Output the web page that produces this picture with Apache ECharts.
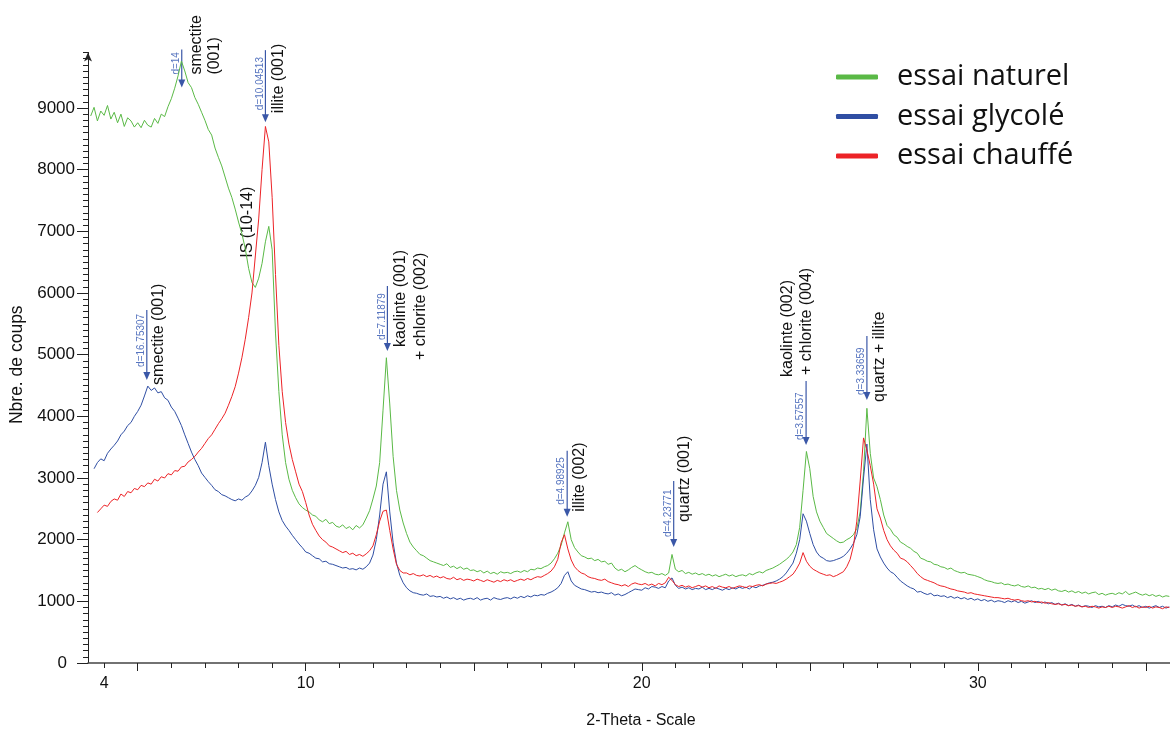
<!DOCTYPE html>
<html><head><meta charset="utf-8">
<script src="https://cdn.jsdelivr.net/npm/echarts@6/dist/echarts.min.js"></script>
<style>html,body{margin:0;padding:0;background:#fff;overflow:hidden}#c{width:1170px;height:729px}</style>
</head><body><div id="c"></div><script>
// ---- data ----
const twoTheta = [
3.6,3.7,3.8,3.9,
4,4.1,4.2,4.3,4.4,4.5,4.6,4.7,4.8,4.9,
5,5.1,5.2,5.3,5.4,5.5,5.6,5.7,5.8,5.9,
6,6.1,6.2,6.3,6.4,6.5,6.6,6.7,6.8,6.9,
7,7.1,7.2,7.3,7.4,7.5,7.6,7.7,7.8,7.9,
8,8.1,8.2,8.3,8.4,8.5,8.6,8.7,8.8,8.9,
9,9.1,9.2,9.3,9.4,9.5,9.6,9.7,9.8,9.9,
10,10.1,10.2,10.3,10.4,10.5,10.6,10.7,10.8,10.9,
11,11.1,11.2,11.3,11.4,11.5,11.6,11.7,11.8,11.9,
12,12.1,12.2,12.3,12.4,12.5,12.6,12.7,12.8,12.9,
13,13.1,13.2,13.3,13.4,13.5,13.6,13.7,13.8,13.9,
14,14.1,14.2,14.3,14.4,14.5,14.6,14.7,14.8,14.9,
15,15.1,15.2,15.3,15.4,15.5,15.6,15.7,15.8,15.9,
16,16.1,16.2,16.3,16.4,16.5,16.6,16.7,16.8,16.9,
17,17.1,17.2,17.3,17.4,17.5,17.6,17.7,17.8,17.9,
18,18.1,18.2,18.3,18.4,18.5,18.6,18.7,18.8,18.9,
19,19.1,19.2,19.3,19.4,19.5,19.6,19.7,19.8,19.9,
20,20.1,20.2,20.3,20.4,20.5,20.6,20.7,20.8,20.9,
21,21.1,21.2,21.3,21.4,21.5,21.6,21.7,21.8,21.9,
22,22.1,22.2,22.3,22.4,22.5,22.6,22.7,22.8,22.9,
23,23.1,23.2,23.3,23.4,23.5,23.6,23.7,23.8,23.9,
24,24.1,24.2,24.3,24.4,24.5,24.6,24.7,24.8,24.9,
25,25.1,25.2,25.3,25.4,25.5,25.6,25.7,25.8,25.9,
26,26.1,26.2,26.3,26.4,26.5,26.6,26.7,26.8,26.9,
27,27.1,27.2,27.3,27.4,27.5,27.6,27.7,27.8,27.9,
28,28.1,28.2,28.3,28.4,28.5,28.6,28.7,28.8,28.9,
29,29.1,29.2,29.3,29.4,29.5,29.6,29.7,29.8,29.9,
30,30.1,30.2,30.3,30.4,30.5,30.6,30.7,30.8,30.9,
31,31.1,31.2,31.3,31.4,31.5,31.6,31.7,31.8,31.9,
32,32.1,32.2,32.3,32.4,32.5,32.6,32.7,32.8,32.9,
33,33.1,33.2,33.3,33.4,33.5,33.6,33.7,33.8,33.9,
34,34.1,34.2,34.3,34.4,34.5,34.6,34.7,34.8,34.9,
35,35.1,35.2,35.3,35.4,35.5,35.6,35.7
];
const naturel = [
8870,9010,8790,8950,
8880,9040,8820,8930,8760,8900,8700,8840,8790,8690,
8760,8680,8800,8720,8690,8830,8750,8900,8860,9020,
9150,9320,9520,9760,9600,9410,9330,9170,9060,8930,
8800,8650,8560,8350,8200,8060,7880,7700,7550,7360,
7150,6960,6720,6400,6170,6090,6240,6480,6830,7080,
6700,5350,4400,3700,3250,2980,2800,2680,2580,2520,
2480,2450,2400,2380,2320,2290,2330,2260,2280,2220,
2200,2240,2180,2210,2160,2230,2190,2240,2350,2470,
2660,2870,3250,4100,4950,4200,3350,2800,2480,2270,
2100,1960,1880,1820,1760,1740,1700,1660,1640,1620,
1600,1580,1610,1550,1570,1530,1560,1520,1540,1500,
1510,1480,1500,1460,1490,1450,1470,1440,1480,1460,
1470,1450,1480,1490,1470,1500,1480,1520,1510,1540,
1530,1560,1580,1620,1690,1780,1910,2110,2290,2000,
1870,1800,1740,1720,1690,1700,1660,1680,1640,1650,
1600,1620,1540,1500,1520,1480,1510,1550,1580,1540,
1510,1480,1460,1470,1440,1430,1450,1420,1460,1760,
1520,1480,1500,1450,1470,1440,1460,1430,1450,1420,
1440,1410,1430,1400,1420,1440,1410,1430,1400,1420,
1430,1410,1450,1430,1460,1480,1460,1500,1520,1540,
1570,1600,1640,1680,1730,1800,1920,2200,2800,3430,
3150,2700,2450,2300,2200,2100,2060,2020,1980,1950,
1960,2000,2030,2080,2180,2450,3100,4130,3400,3000,
2860,2650,2400,2230,2170,2080,2040,1960,1930,1890,
1860,1810,1780,1700,1680,1650,1640,1600,1590,1560,
1550,1520,1540,1500,1480,1460,1470,1440,1430,1420,
1400,1380,1350,1330,1320,1300,1290,1300,1270,1280,
1260,1250,1270,1240,1230,1250,1220,1230,1200,1210,
1190,1210,1180,1200,1170,1160,1180,1150,1170,1140,
1160,1130,1150,1120,1140,1150,1110,1130,1100,1120,
1130,1110,1140,1120,1160,1110,1130,1150,1120,1100,
1120,1090,1110,1080,1100,1070,1090,1080
];
const glycole = [
null,3150,3250,3310,
3280,3400,3470,3530,3600,3700,3760,3850,3900,4000,
4080,4180,4330,4490,4420,4460,4380,4400,4300,4260,
4150,4080,3970,3850,3700,3560,3420,3300,3200,3080,
3010,2940,2880,2810,2780,2730,2710,2680,2650,2630,
2660,2640,2690,2720,2790,2880,3010,3250,3580,3200,
2900,2650,2450,2310,2220,2150,2070,2000,1930,1870,
1800,1780,1740,1700,1690,1640,1650,1610,1600,1580,
1560,1540,1550,1520,1530,1510,1540,1520,1560,1620,
1750,2000,2400,2900,3100,2450,1950,1620,1420,1300,
1220,1170,1140,1130,1110,1100,1120,1080,1090,1070,
1080,1050,1070,1040,1060,1030,1050,1020,1040,1050,
1030,1060,1020,1040,1050,1020,1060,1040,1030,1050,
1060,1040,1070,1050,1080,1060,1090,1070,1100,1090,
1110,1100,1130,1150,1180,1220,1290,1420,1480,1330,
1260,1230,1200,1190,1170,1150,1160,1140,1150,1130,
1120,1140,1100,1120,1090,1110,1140,1170,1200,1190,
1180,1220,1200,1240,1230,1210,1240,1220,1330,1380,
1260,1210,1230,1200,1220,1190,1210,1200,1230,1190,
1210,1190,1220,1200,1180,1210,1190,1220,1200,1230,
1210,1230,1200,1240,1220,1250,1260,1280,1300,1310,
1330,1360,1400,1460,1540,1620,1780,2000,2420,2300,
2100,1920,1800,1730,1700,1660,1650,1660,1680,1700,
1730,1780,1850,1940,2080,2370,3000,3550,2650,2160,
1850,1720,1620,1540,1480,1450,1390,1330,1290,1250,
1220,1200,1150,1160,1130,1110,1130,1090,1100,1080,
1090,1060,1080,1050,1070,1040,1060,1030,1050,1020,
1040,1010,1030,1000,1020,990,1010,1000,980,1010,
990,1010,980,1000,970,990,1010,980,1000,970,
990,960,980,950,970,940,960,930,950,920,
940,910,930,920,900,930,910,920,900,930,
910,940,920,950,930,920,940,910,930,900,
920,890,910,930,900,920,890,910
];
const chauffe = [
null,null,2440,2500,
2560,2540,2620,2660,2640,2740,2700,2780,2760,2830,
2810,2880,2860,2920,2900,2980,2950,3020,3000,3070,
3050,3120,3110,3180,3190,3260,3300,3350,3420,3480,
3560,3640,3700,3790,3880,3960,4050,4180,4320,4480,
4700,4950,5250,5600,6000,6600,7200,8000,8700,8450,
7550,6300,5150,4400,3900,3550,3300,3100,2900,2780,
2600,2400,2250,2150,2060,2000,1960,1900,1880,1850,
1820,1790,1810,1760,1780,1740,1760,1730,1770,1820,
1900,2080,2300,2460,2480,2150,1850,1600,1500,1460,
1460,1430,1450,1420,1410,1430,1400,1420,1390,1410,
1380,1400,1370,1360,1390,1350,1370,1340,1360,1350,
1330,1360,1340,1320,1350,1330,1310,1340,1320,1350,
1330,1350,1320,1340,1360,1340,1370,1350,1380,1400,
1390,1420,1450,1490,1560,1680,1950,2080,1850,1670,
1560,1500,1460,1440,1400,1380,1370,1350,1340,1360,
1320,1300,1280,1270,1250,1270,1240,1280,1300,1280,
1270,1290,1260,1280,1250,1290,1270,1300,1390,1340,
1270,1240,1260,1230,1250,1220,1240,1260,1230,1250,
1220,1240,1210,1250,1230,1220,1240,1210,1230,1250,
1240,1220,1250,1240,1260,1270,1250,1280,1290,1300,
1290,1310,1330,1360,1400,1440,1520,1620,1790,1650,
1570,1520,1490,1460,1440,1420,1430,1400,1420,1450,
1480,1560,1680,1900,2300,2950,3650,3450,3200,2900,
2500,2350,2150,2000,1900,1830,1780,1700,1680,1640,
1580,1520,1450,1400,1360,1340,1320,1300,1270,1250,
1240,1220,1200,1190,1170,1160,1150,1130,1140,1120,
1110,1100,1090,1080,1070,1060,1060,1050,1040,1050,
1030,1020,1030,1010,1000,1010,990,1000,980,990,
970,980,960,950,960,940,950,930,940,920,
930,910,920,900,920,910,890,910,900,920,
900,920,910,890,910,930,900,920,890,910,
900,920,890,910,900,880,910,900
];
const seriesNames = ['essai naturel', 'essai glycolé', 'essai chauffé'];
const xTickLabels = [4, 10, 20, 30];
const yTickLabels = [0, 1000, 2000, 3000, 4000, 5000, 6000, 7000, 8000, 9000];
// peak annotations (2-theta position, d-spacing label, arrow-tip count, phase names)
const peakTheta = [6.31, 8.80, 8.28, 5.27, 12.43, 17.78, 20.95, 24.89, 26.70];
const peakD = ['d=14', 'd=10.04513', null, 'd=16.75307', 'd=7.11879', 'd=4.98925', 'd=4.23771', 'd=3.57557', 'd=3.33659'];
const peakTip = [9330, 8770, 6570, 4590, 5060, 2370, 1880, 3535, 4265];
const peakNames = [['smectite', '(001)'], ['illite (001)'], ['IS (10-14)'], ['smectite (001)'],
  ['kaolinte (001)', '+ chlorite (002)'], ['illite (002)'], ['quartz (001)'],
  ['kaolinte (002)', '+ chlorite (004)'], ['quartz + illite']];

// ---- layout ----
const annotLayout = [
  {shaft: 38, dBottom: -13, lines: [[15, -13], [33, -13]]},
  {shaft: 72, dBottom: -12, lines: [[13, -9]]},
  {shaft: 0, dBottom: 0, lines: [[0, 0]]},
  {shaft: 70, dBottom: -13, lines: [[12, 5]]},
  {shaft: 65, dBottom: -11, lines: [[13, -4], [33, 9]]},
  {shaft: 66, dBottom: -12, lines: [[12, -5]]},
  {shaft: 66, dBottom: -10, lines: [[11, -25]]},
  {shaft: 64, dBottom: -5, lines: [[-18, -68], [1, -70]]},
  {shaft: 64, dBottom: -5, lines: [[13, 2]]}
];
const colors = ['#5ab946', '#2f4ea3', '#ec2327'];
const FONT = '"Liberation Sans", Arial, Helvetica, sans-serif';
const XMIN = 3.52, XMAX = 35.72, YMAX = 9900;

const xMinorTicks = [], xMajorTicks = [], yMinorTicks = [];
for (let v = 4; v <= 35; v++) { xMinorTicks.push(v); if (v % 5 === 0) xMajorTicks.push(v); }
for (let v = 0; v <= 9900; v += 100) yMinorTicks.push(v);

const pair = arr => twoTheta.map((t, i) => [t, arr[i]]);
const seriesData = [naturel, glycole, chauffe];

const chart = echarts.init(document.getElementById('c'), null, {renderer: 'canvas'});
const option = {
  animation: false,
  textStyle: {fontFamily: FONT},
  grid: {left: 88, right: 0, top: 663 - YMAX / 16.215, bottom: 66, containLabel: false, outerBoundsMode: 'none'},
  legend: {
    left: 831, top: 55, orient: 'vertical', icon: 'roundRect',
    itemWidth: 42, itemHeight: 5, itemGap: 5.5,
    textStyle: {fontFamily: '"Open Sans", sans-serif', fontSize: 29, color: '#111', lineHeight: 34, padding: [0, 0, 0, 14]},
    data: seriesNames
  },
  xAxis: [
    {
      type: 'value', min: XMIN, max: XMAX,
      axisLine: {show: true, onZero: false, lineStyle: {color: '#444', width: 1.5}},
      axisTick: {show: true, customValues: xMinorTicks, length: 5, lineStyle: {color: '#222'}},
      axisLabel: {customValues: xTickLabels, margin: 13, fontSize: 16, color: '#111', fontFamily: FONT},
      splitLine: {show: false},
      name: '2-Theta - Scale', nameLocation: 'middle', nameGap: 50,
      nameTextStyle: {fontSize: 16, color: '#111', fontFamily: FONT, padding: [0, 0, 0, 24]}
    },
    {
      type: 'value', min: XMIN, max: XMAX, position: 'bottom',
      axisLine: {show: false, onZero: false},
      axisTick: {show: true, customValues: xMajorTicks, length: 8, lineStyle: {color: '#222'}},
      axisLabel: {show: false}, splitLine: {show: false}
    }
  ],
  yAxis: [
    {
      type: 'value', min: 0, max: YMAX,
      axisLine: {show: true, symbol: ['none', 'arrow'], symbolSize: [6, 9], lineStyle: {color: '#222', width: 1}},
      axisTick: {show: true, customValues: yTickLabels, length: 11, lineStyle: {color: '#222'}},
      axisLabel: {
        customValues: yTickLabels, margin: 13, fontSize: 17, color: '#111', fontFamily: FONT,
        formatter: v => v === 0 ? '{z|0}' : String(v),
        rich: {z: {fontSize: 17, fontFamily: FONT, color: '#111', padding: [0, 8, 0, 0]}}
      },
      splitLine: {show: false},
      name: 'Nbre. de coups', nameLocation: 'middle', nameGap: 57,
      nameTextStyle: {fontSize: 17.5, color: '#111', fontFamily: FONT, padding: [0, 14, 0, 0]}
    },
    {
      type: 'value', min: 0, max: YMAX, position: 'left',
      axisLine: {show: false},
      axisTick: {show: true, customValues: yMinorTicks, length: 5, lineStyle: {color: '#222'}},
      axisLabel: {show: false}, splitLine: {show: false}
    }
  ],
  series: seriesNames.map((n, i) => ({
    name: n, type: 'line', xAxisIndex: 0, yAxisIndex: 0,
    data: pair(seriesData[i]), showSymbol: false, connectNulls: false,
    color: colors[i], lineStyle: {width: 1, color: colors[i]}
  }))
};
chart.setOption(option);

const g = [];
peakTheta.forEach((t, i) => {
  const p = chart.convertToPixel({xAxisIndex: 0, yAxisIndex: 0}, [t, peakTip[i]]);
  const L = annotLayout[i];
  if (peakD[i]) {
    g.push({type: 'line', silent: true, shape: {x1: p[0], y1: p[1] - L.shaft, x2: p[0], y2: p[1] - 6},
      style: {stroke: '#3a57a7', lineWidth: 1.2}});
    g.push({type: 'polygon', silent: true, shape: {points: [[p[0] - 3.5, p[1] - 8], [p[0] + 3.5, p[1] - 8], [p[0], p[1]]]},
      style: {fill: '#3a57a7'}});
    g.push({type: 'text', silent: true, x: p[0] - 5.5, y: p[1] + L.dBottom, rotation: Math.PI / 2,
      style: {text: peakD[i], fill: '#5674bf', font: '10px ' + FONT, align: 'left', verticalAlign: 'middle'}});
  }
  peakNames[i].forEach((s, j) => {
    const o = L.lines[j];
    g.push({type: 'text', silent: true, x: p[0] + o[0], y: p[1] + o[1], rotation: Math.PI / 2,
      style: {text: s, fill: '#111', font: '16px ' + FONT, align: 'left', verticalAlign: 'middle'}});
  });
});
chart.setOption({graphic: g});
</script></body></html>
